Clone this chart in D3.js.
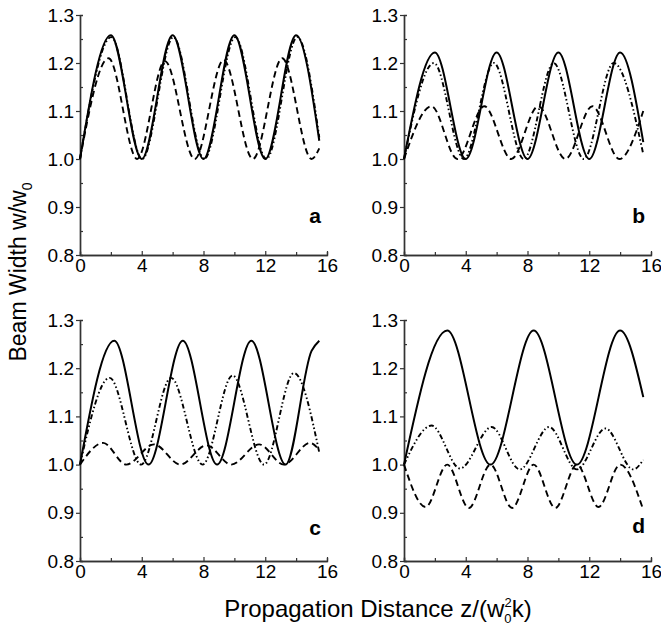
<!DOCTYPE html>
<html>
<head>
<meta charset="utf-8">
<script src="https://cdn.jsdelivr.net/npm/d3@7"></script>
<style>
  body { margin: 0; background: #fff; }
  text { font-family: "Liberation Sans", Arial, sans-serif; fill: #000; }
</style>
</head>
<body>
<script>
///////////////////   Data   /////////////////

// panel a
var aSolidZ = [0, 2, 4, 6, 8, 10, 12, 14, 15.5],
    aSolidW = [1, 1.258, 1, 1.258, 1, 1.258, 1, 1.258, 1.038];
var aDotZ = [0, 2.03, 4.03, 6.05, 8.05, 10.06, 12.07, 14.08, 15.5],
    aDotW = [1, 1.254, 1, 1.254, 1, 1.254, 1, 1.254, 1.045];
var aDashZ = [0, 1.85, 3.7, 5.5, 7.43, 9.3, 11.2, 13.1, 15.0, 15.5],
    aDashW = [1, 1.21, 1, 1.204, 1, 1.206, 1, 1.21, 1, 1.022];

// panel b
var bSolidZ = [0, 2, 4, 6, 8, 10, 12, 14, 15.5],
    bSolidW = [1, 1.222, 1, 1.222, 1, 1.222, 1, 1.222, 1.035];
var bDotZ = [0, 1.94, 3.88, 5.82, 7.76, 9.7, 11.64, 13.58, 15.5],
    bDotW = [1, 1.2, 1, 1.2, 1, 1.2, 1, 1.2, 1.01];
var bDashZ = [0, 1.78, 3.45, 5.2, 6.95, 8.7, 10.45, 12.2, 13.95, 15.5],
    bDashW = [1, 1.11, 1, 1.11, 1, 1.11, 1, 1.11, 1, 1.1];

// panel c
var cSolidZ = [0, 2.22, 4.44, 6.66, 8.88, 11.1, 13.32, 15.0, 15.5],
    cSolidW = [1, 1.257, 1, 1.257, 1, 1.257, 1, 1.236, 1.257];
var cDotZ = [0, 1.92, 3.96, 5.9, 7.94, 9.88, 11.92, 13.86, 15.5],
    cDotW = [1, 1.18, 1, 1.18, 1, 1.185, 1, 1.19, 1.025];
var cDashZ = [0, 1.5, 3.0, 4.8, 6.5, 8.2, 9.8, 11.6, 13.2, 14.9, 15.5],
    cDashW = [1, 1.045, 1, 1.042, 1, 1.04, 1, 1.042, 1, 1.045, 1.03];

// panel d
var dSolidZ = [0, 2.8, 5.6, 8.4, 11.2, 14.0, 15.5],
    dSolidW = [1, 1.278, 1, 1.278, 1, 1.278, 1.14];
var dDotZ = [0, 1.79, 3.63, 5.68, 7.5, 9.4, 11.2, 13.05, 14.85, 15.5],
    dDotW = [1, 1.081, 0.992, 1.078, 0.99, 1.078, 0.99, 1.075, 0.99, 1.01];
var dDashZ = [0, 1.4, 2.8, 4.2, 5.6, 7.0, 8.4, 9.8, 11.2, 12.6, 14.0, 15.5],
    dDashW = [1, 0.912, 1, 0.91, 1, 0.91, 1, 0.91, 1, 0.912, 1, 0.906];

var xMajor = [0, 4, 8, 12, 16],
    xMinor = [2, 6, 10, 14],
    yMajor = [0.8, 0.9, 1.0, 1.1, 1.2, 1.3],
    yMinor = [0.85, 0.95, 1.05, 1.15, 1.25];

var yTitle = "Beam Width w/w",
    xTitle = "Propagation Distance z/(w";

///////////////////   Layout   /////////////////

var panels = [
    {label: "a", left: 80, right: 327, top: 15, bottom: 255, labelUp: 32,
     series: [[aSolidZ, aSolidW, "solid"], [aDotZ, aDotW, "dot"], [aDashZ, aDashW, "dash"]]},
    {label: "b", left: 404, right: 651, top: 15, bottom: 255, labelUp: 32,
     series: [[bSolidZ, bSolidW, "solid"], [bDotZ, bDotW, "dot"], [bDashZ, bDashW, "dash"]]},
    {label: "c", left: 80, right: 327, top: 320, bottom: 561, labelUp: 26,
     series: [[cSolidZ, cSolidW, "solid"], [cDotZ, cDotW, "dot"], [cDashZ, cDashW, "dash"]]},
    {label: "d", left: 404, right: 651, top: 320, bottom: 561, labelUp: 28,
     series: [[dSolidZ, dSolidW, "solid"], [dDotZ, dDotW, "dot"], [dDashZ, dDashW, "dash"]]}
];

var dashes = {solid: null, dot: "5,2.5,1.5,2.5,1.5,2.5", dash: "6.5,4"};

var svg = d3.select("body").append("svg")
    .attr("width", 661)
    .attr("height", 630);

panels.forEach(function(p) {
    var x = d3.scaleLinear().domain([0, 16]).range([p.left, p.right]);
    var y = d3.scaleLinear().domain([0.8, 1.3]).range([p.bottom, p.top]);
    var g = svg.append("g");

    // minor ticks (inside)
    g.append("g")
        .attr("transform", "translate(" + p.left + ",0)")
        .call(d3.axisLeft(y).tickValues(yMinor).tickSize(-3).tickFormat(""))
        .call(styleAxis);
    g.append("g")
        .attr("transform", "translate(0," + p.bottom + ")")
        .call(d3.axisBottom(x).tickValues(xMinor).tickSize(-3).tickFormat(""))
        .call(styleAxis);

    // major ticks
    g.append("g")
        .attr("transform", "translate(" + p.left + ",0)")
        .call(d3.axisLeft(y).tickValues(yMajor).tickSize(4).tickSizeOuter(0)
              .tickPadding(2).tickFormat(d3.format(".1f")))
        .call(styleAxis);
    g.append("g")
        .attr("transform", "translate(0," + p.bottom + ")")
        .call(d3.axisBottom(x).tickValues(xMajor).tickSize(-4).tickSizeOuter(0)
              .tickPadding(4).tickFormat(d3.format("d")))
        .call(styleAxis);

    var line = d3.line()
        .x(function(d) { return x(d[0]); })
        .y(function(d) { return y(d[1]); })
        .curve(d3.curveMonotoneX);

    p.series.forEach(function(s) {
        var pts = d3.zip(s[0], s[1]);
        g.append("path")
            .datum(pts)
            .attr("d", line)
            .attr("fill", "none")
            .attr("stroke", "#000")
            .attr("stroke-width", s[2] == "solid" ? 2 : 1.9)
            .attr("stroke-dasharray", dashes[s[2]]);
    });

    g.append("text")
        .attr("x", p.right - 6)
        .attr("y", p.bottom - p.labelUp)
        .attr("text-anchor", "end")
        .style("font-weight", "bold")
        .style("font-size", "21px")
        .text(p.label);
});

function styleAxis(sel) {
    sel.select(".domain").attr("stroke", "#333").attr("stroke-width", 1.4);
    sel.selectAll(".tick line").attr("stroke", "#333").attr("stroke-width", 1.2);
    sel.selectAll(".tick text").style("font-size", "19px")
        .style("font-family", "'Liberation Sans', Arial, sans-serif").attr("fill", "#000");
}

// axis titles
var yt = svg.append("text")
    .attr("transform", "translate(26,272) rotate(-90)")
    .attr("text-anchor", "middle")
    .style("font-size", "23px");
yt.append("tspan").text(yTitle);
yt.append("tspan").attr("dy", 6).style("font-size", "14px").text("0");

var xt = svg.append("text")
    .attr("x", 378)
    .attr("y", 617)
    .attr("text-anchor", "middle")
    .style("font-size", "24px");
xt.append("tspan").text(xTitle);
xt.append("tspan").attr("dy", 6).style("font-size", "13px").text("0");
xt.append("tspan").attr("dx", -7).attr("dy", -16).style("font-size", "13px").text("2");
xt.append("tspan").attr("dy", 10).text("k)");
</script>
</body>
</html>
